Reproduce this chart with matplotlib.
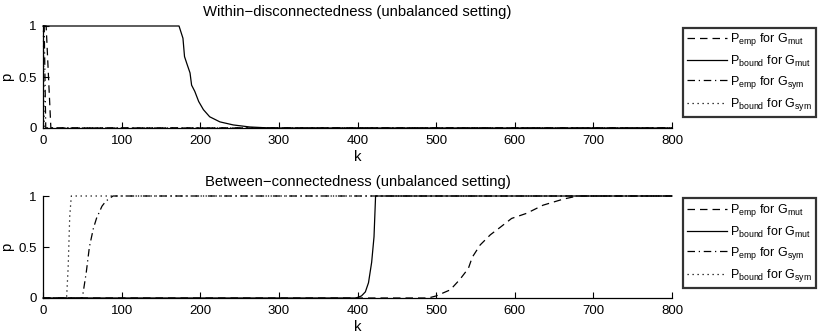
import matplotlib
matplotlib.use("Agg")
import matplotlib.pyplot as plt
from matplotlib.lines import Line2D

plt.rcParams['font.family'] = ['Liberation Sans', 'DejaVu Sans']
plt.rcParams['mathtext.default'] = 'regular'

# ---------------- data ----------------
# Top: Within-disconnectedness
top_emp_mut_k = [0, 4, 10, 800]
top_emp_mut_p = [1, 1, 0, 0]
top_bound_mut_k = [0, 173, 178, 180, 183, 187, 189, 193, 198, 204, 212, 225, 242, 263, 284, 300, 800]
top_bound_mut_p = [1, 1, 0.88, 0.70, 0.63, 0.54, 0.42, 0.36, 0.26, 0.18, 0.11, 0.06, 0.03, 0.01, 0.002, 0, 0]
top_emp_sym_k = [0, 1.5, 3.5, 800]
top_emp_sym_p = [1, 1, 0, 0]
top_bound_sym_k = [0, 0.5, 1.5, 800]
top_bound_sym_p = [1, 1, 0, 0]

# Bottom: Between-connectedness
bot_emp_mut_k = [0, 490, 500, 518, 530, 541, 546, 556, 569, 581, 596, 615, 636, 662, 680, 800]
bot_emp_mut_p = [0, 0, 0.02, 0.08, 0.18, 0.29, 0.40, 0.52, 0.62, 0.69, 0.78, 0.83, 0.91, 0.97, 1, 1]
bot_bound_mut_k = [0, 398, 405, 410, 414, 418, 421, 423, 800]
bot_bound_mut_p = [0, 0, 0.02, 0.06, 0.15, 0.35, 0.6, 1, 1]
bot_emp_sym_k = [0, 50, 55, 59, 64, 68, 75, 80, 89, 800]
bot_emp_sym_p = [0, 0, 0.25, 0.5, 0.68, 0.78, 0.9, 0.95, 1, 1]
bot_bound_sym_k = [0, 30, 32, 34, 36, 800]
bot_bound_sym_p = [0, 0, 0.3, 0.8, 1, 1]

xticks = [0, 100, 200, 300, 400, 500, 600, 700, 800]
yticks = [0, 0.5, 1]
ytick_labels = ['0', '0.5', '1']

titles = ['Within\u2212disconnectedness (unbalanced setting)',
          'Between\u2212connectedness (unbalanced setting)']
legend_labels = ['$P_{emp}$ for $G_{mut}$', '$P_{bound}$ for $G_{mut}$',
                 '$P_{emp}$ for $G_{sym}$', '$P_{bound}$ for $G_{sym}$']
styles = [(0, (6, 4)), '-', (0, (6, 3, 1, 3)), (0, (1, 3))]

W, H = 818, 335
fig = plt.figure(figsize=(W / 100, H / 100), dpi=100)

def fx(px):
    return px / W

def fy(py):
    return 1 - py / H

ax_top = fig.add_axes([fx(43), fy(128), fx(672) - fx(43), fy(26) - fy(128)])
ax_bot = fig.add_axes([fx(43), fy(298), fx(672) - fx(43), fy(196) - fy(298)])

series_top = [(top_emp_mut_k, top_emp_mut_p), (top_bound_mut_k, top_bound_mut_p),
              (top_emp_sym_k, top_emp_sym_p), (top_bound_sym_k, top_bound_sym_p)]
series_bot = [(bot_emp_mut_k, bot_emp_mut_p), (bot_bound_mut_k, bot_bound_mut_p),
              (bot_emp_sym_k, bot_emp_sym_p), (bot_bound_sym_k, bot_bound_sym_p)]

for ax, series, title, legtop in [
        (ax_top, series_top, titles[0], 27.5),
        (ax_bot, series_bot, titles[1], 198.5)]:
    for (k, p), ls in zip(series, styles):
        ax.plot(k, p, color='black', linestyle=ls, linewidth=0.9, clip_on=False)
    ax.set_xlim(0, 800)
    ax.set_ylim(0, 1)
    ax.set_xticks(xticks)
    ax.set_xticklabels([str(t) for t in xticks])
    ax.set_yticks(yticks)
    ax.set_yticklabels(ytick_labels)
    ax.tick_params(direction='in', length=4, width=0.8, labelsize=9.5)
    ax.tick_params(axis='x', pad=5)
    ax.tick_params(axis='y', pad=4.5)
    ax.spines['top'].set_visible(False)
    ax.spines['right'].set_visible(False)
    ax.spines['left'].set_linewidth(0.9)
    ax.spines['bottom'].set_linewidth(0.9)
    ax.set_title(title, fontsize=10.7, pad=7)
    ax.set_xlabel('k', fontsize=10.7, labelpad=2)
    ax.set_ylabel('p', fontsize=10.7, labelpad=3)
    ax.patch.set_alpha(0)

    handles = [Line2D([], [], color='black', linestyle=ls, linewidth=0.9) for ls in styles]
    leg = fig.legend(handles, legend_labels, loc='upper left',
                     bbox_to_anchor=(fx(683), fy(legtop)), bbox_transform=fig.transFigure,
                     frameon=True, fancybox=False, edgecolor='black', fontsize=9,
                     handlelength=3.2, handletextpad=0.3, labelspacing=0.42,
                     borderpad=0.3, borderaxespad=0)
    leg.get_frame().set_linewidth(1.6)

fig.savefig('out.png', dpi=100)
